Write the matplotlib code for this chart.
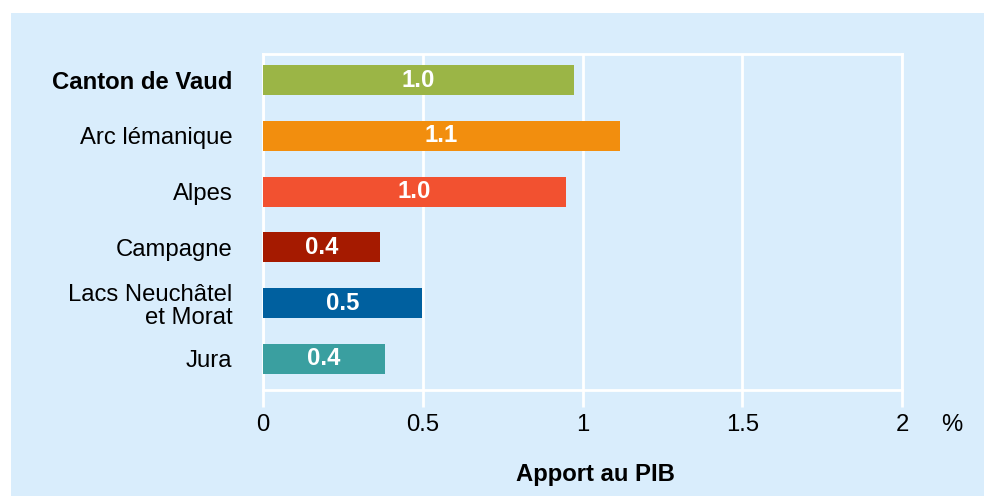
import matplotlib.pyplot as plt
from matplotlib.patches import Rectangle

plt.rcParams['font.family'] = ['Liberation Sans', 'DejaVu Sans']

regions = ['Canton de Vaud', 'Arc lémanique', 'Alpes', 'Campagne',
           'Lacs Neuchâtel\net Morat', 'Jura']
values = [0.973, 1.117, 0.948, 0.366, 0.498, 0.382]
labels = ['1.0', '1.1', '1.0', '0.4', '0.5', '0.4']
colors = ['#9BB546', '#F28E0E', '#F25130', '#A51A00', '#00609F', '#3A9FA0']
xticks = [0, 0.5, 1, 1.5, 2]
xticklabels = ['0', '0.5', '1', '1.5', '2']

bg = '#D9EDFC'
fs = 17.2
W, H = 984, 496

fig = plt.figure(figsize=(W / 100, H / 100), dpi=100, facecolor='white')
fig.patches.append(Rectangle((11 / W, 0), 1, (H - 13) / H, transform=fig.transFigure,
                             facecolor=bg, edgecolor='none', zorder=-10))

ax = fig.add_axes([263 / W, (H - 390) / H, 639 / W, 336 / H])
ax.set_facecolor(bg)

y = list(range(len(regions)))
ax.barh(y, values, height=0.54, color=colors, zorder=3)
for yi, v, lab in zip(y, values, labels):
    ax.text(v / 2, yi, lab, ha='center', va='center', color='white',
            fontsize=fs, fontweight='bold', zorder=4)

ax.set_xlim(0, 2)
ax.set_ylim(5.556, -0.466)
ax.set_xticks(xticks)
ax.set_xticklabels(xticklabels, fontsize=fs)
ax.set_yticks(y)
ax.set_yticklabels(regions, fontsize=fs, linespacing=1.05, ha='right')
ax.get_yticklabels()[0].set_fontweight('bold')
ax.tick_params(axis='y', length=0, pad=22)
ax.tick_params(axis='x', length=12, width=2, color='white', pad=5)
ax.xaxis.grid(True, color='white', linewidth=2, zorder=1)
ax.set_axisbelow(True)
for s in ax.spines.values():
    s.set_color('white')
    s.set_linewidth(2)

fig.text(952 / W, 1 - 425 / H, '%', fontsize=fs, ha='center', va='center')
fig.text(595 / W, 1 - 474 / H, 'Apport au PIB', fontsize=fs, fontweight='bold',
         ha='center', va='center')

fig.savefig('out.png', dpi=100, facecolor='white')
